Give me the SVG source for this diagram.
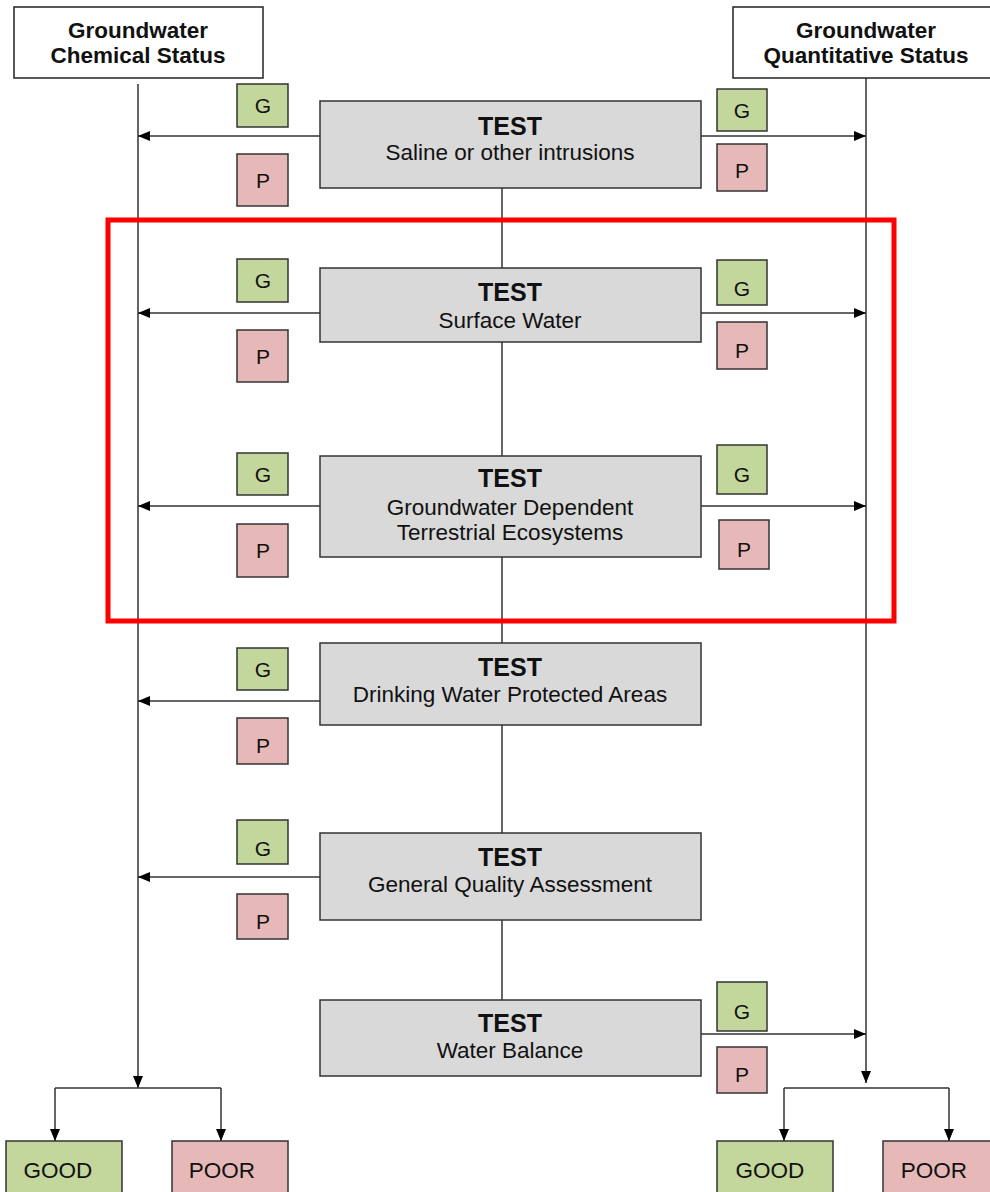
<svg xmlns="http://www.w3.org/2000/svg" width="990" height="1192" viewBox="0 0 990 1192">
<style>
text{font-family:"Liberation Sans",Arial,sans-serif;fill:#111;text-anchor:middle}
.hdr{fill:#fff;stroke:#222;stroke-width:1.5}
.hd{font-weight:bold;font-size:22.5px}
.test{fill:#d9d9d9;stroke:#333;stroke-width:1.5}
.tt{font-weight:bold;font-size:25px}
.ts{font-size:22.5px}
.g{fill:#c3d69b;stroke:#333;stroke-width:1.5}
.p{fill:#e6b9b8;stroke:#333;stroke-width:1.5}
.gp{font-size:21px}
.res{font-size:22.5px}
.ln{stroke:#333;stroke-width:1.5;fill:none}
</style>
<defs>
<marker id="ah" markerWidth="12" markerHeight="10" refX="12" refY="5" orient="auto" markerUnits="userSpaceOnUse">
<path d="M0,0 L12,5 L0,10 Z" fill="#000"/>
</marker>
</defs>

<g id="connectors">
<line class="ln" x1="138" y1="84" x2="138" y2="1088" marker-end="url(#ah)"/>
<line class="ln" x1="866" y1="78" x2="866" y2="1083" marker-end="url(#ah)"/>
<line class="ln" x1="502" y1="188" x2="502" y2="268"/>
<line class="ln" x1="502" y1="342" x2="502" y2="456"/>
<line class="ln" x1="502" y1="557" x2="502" y2="643"/>
<line class="ln" x1="502" y1="725" x2="502" y2="833"/>
<line class="ln" x1="502" y1="920" x2="502" y2="1000"/>
<line class="ln" x1="320" y1="136" x2="138" y2="136" marker-end="url(#ah)"/>
<line class="ln" x1="701" y1="136" x2="866" y2="136" marker-end="url(#ah)"/>
<line class="ln" x1="320" y1="313" x2="138" y2="313" marker-end="url(#ah)"/>
<line class="ln" x1="701" y1="313" x2="866" y2="313" marker-end="url(#ah)"/>
<line class="ln" x1="320" y1="506" x2="138" y2="506" marker-end="url(#ah)"/>
<line class="ln" x1="701" y1="506" x2="866" y2="506" marker-end="url(#ah)"/>
<line class="ln" x1="320" y1="701" x2="138" y2="701" marker-end="url(#ah)"/>
<line class="ln" x1="320" y1="877" x2="138" y2="877" marker-end="url(#ah)"/>
<line class="ln" x1="701" y1="1034" x2="866" y2="1034" marker-end="url(#ah)"/>
<line class="ln" x1="55" y1="1088" x2="221" y2="1088"/>
<line class="ln" x1="55" y1="1088" x2="55" y2="1141" marker-end="url(#ah)"/>
<line class="ln" x1="221" y1="1088" x2="221" y2="1141" marker-end="url(#ah)"/>
<line class="ln" x1="784" y1="1088" x2="949" y2="1088"/>
<line class="ln" x1="784" y1="1088" x2="784" y2="1141" marker-end="url(#ah)"/>
<line class="ln" x1="949" y1="1088" x2="949" y2="1141" marker-end="url(#ah)"/>
</g>

<g id="hdr-chem">
<rect class="hdr" x="14" y="7" width="249" height="71"/>
<text class="hd" x="138" y="38">Groundwater</text>
<text class="hd" x="138" y="63">Chemical Status</text>
</g>
<g id="hdr-quant">
<rect class="hdr" x="733" y="7" width="262" height="71"/>
<text class="hd" x="866" y="38">Groundwater</text>
<text class="hd" x="866" y="63">Quantitative Status</text>
</g>

<g id="test-saline">
<rect class="test" x="320" y="101" width="381" height="87"/>
<text class="tt" x="510" y="135">TEST</text>
<text class="ts" x="510" y="160">Saline or other intrusions</text>
</g>
<g id="test-surface">
<rect class="test" x="320" y="268" width="381" height="74"/>
<text class="tt" x="510" y="301">TEST</text>
<text class="ts" x="510" y="328">Surface Water</text>
</g>
<g id="test-gdte">
<rect class="test" x="320" y="456" width="381" height="101"/>
<text class="tt" x="510" y="487">TEST</text>
<text class="ts" x="510" y="515">Groundwater Dependent</text>
<text class="ts" x="510" y="540">Terrestrial Ecosystems</text>
</g>
<g id="test-drinking">
<rect class="test" x="320" y="643" width="381" height="82"/>
<text class="tt" x="510" y="676">TEST</text>
<text class="ts" x="510" y="702">Drinking Water Protected Areas</text>
</g>
<g id="test-general">
<rect class="test" x="320" y="833" width="381" height="87"/>
<text class="tt" x="510" y="866">TEST</text>
<text class="ts" x="510" y="892">General Quality Assessment</text>
</g>
<g id="test-balance">
<rect class="test" x="320" y="1000" width="381" height="76"/>
<text class="tt" x="510" y="1032">TEST</text>
<text class="ts" x="510" y="1058">Water Balance</text>
</g>

<g id="gp-saline-left">
<rect class="g" x="237" y="84" width="51" height="43"/><text class="gp" x="263" y="113">G</text>
<rect class="p" x="237" y="154" width="51" height="52"/><text class="gp" x="263" y="188">P</text>
</g>
<g id="gp-saline-right">
<rect class="g" x="717" y="89" width="50" height="42"/><text class="gp" x="742" y="118">G</text>
<rect class="p" x="717" y="144" width="50" height="47"/><text class="gp" x="742" y="178">P</text>
</g>
<g id="gp-surface-left">
<rect class="g" x="237" y="259" width="51" height="43"/><text class="gp" x="263" y="288">G</text>
<rect class="p" x="237" y="330" width="51" height="52"/><text class="gp" x="263" y="364">P</text>
</g>
<g id="gp-surface-right">
<rect class="g" x="717" y="260" width="50" height="45"/><text class="gp" x="742" y="296">G</text>
<rect class="p" x="717" y="322" width="50" height="47"/><text class="gp" x="742" y="358">P</text>
</g>
<g id="gp-gdte-left">
<rect class="g" x="237" y="453" width="51" height="42"/><text class="gp" x="263" y="482">G</text>
<rect class="p" x="237" y="524" width="51" height="53"/><text class="gp" x="263" y="558">P</text>
</g>
<g id="gp-gdte-right">
<rect class="g" x="717" y="445" width="50" height="49"/><text class="gp" x="742" y="482">G</text>
<rect class="p" x="719" y="520" width="50" height="49"/><text class="gp" x="744" y="557">P</text>
</g>
<g id="gp-drinking-left">
<rect class="g" x="237" y="648" width="51" height="42"/><text class="gp" x="263" y="677">G</text>
<rect class="p" x="237" y="718" width="51" height="46"/><text class="gp" x="263" y="753">P</text>
</g>
<g id="gp-general-left">
<rect class="g" x="237" y="820" width="51" height="44"/><text class="gp" x="263" y="856">G</text>
<rect class="p" x="237" y="894" width="51" height="45"/><text class="gp" x="263" y="929">P</text>
</g>
<g id="gp-balance-right">
<rect class="g" x="717" y="982" width="50" height="49"/><text class="gp" x="742" y="1019">G</text>
<rect class="p" x="717" y="1047" width="50" height="46"/><text class="gp" x="742" y="1082">P</text>
</g>

<g id="res-chem-good">
<rect class="g" x="6" y="1141" width="116" height="60"/><text class="res" x="58" y="1178">GOOD</text>
</g>
<g id="res-chem-poor">
<rect class="p" x="172" y="1141" width="116" height="60"/><text class="res" x="222" y="1178">POOR</text>
</g>
<g id="res-quant-good">
<rect class="g" x="717" y="1141" width="116" height="60"/><text class="res" x="770" y="1178">GOOD</text>
</g>
<g id="res-quant-poor">
<rect class="p" x="883" y="1141" width="116" height="60"/><text class="res" x="934" y="1178">POOR</text>
</g>

<rect id="highlight" x="108" y="220" width="786" height="401" fill="none" stroke="#f00" stroke-width="5"/>
</svg>
